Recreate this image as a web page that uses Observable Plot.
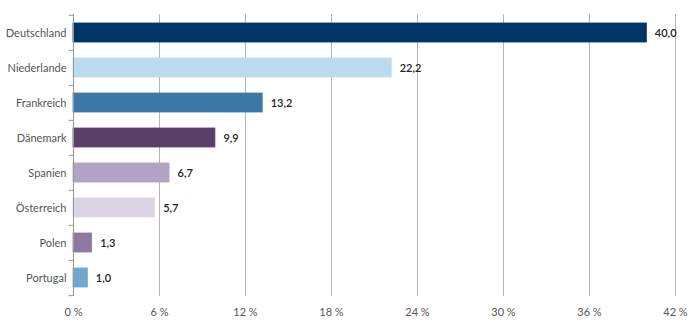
<!DOCTYPE html>
<html>
<head>
<meta charset="utf-8">
<script src="https://cdn.jsdelivr.net/npm/d3@7"></script>
<script src="https://cdn.jsdelivr.net/npm/@observablehq/plot@0.6"></script>
<style>
  body { margin: 0; background: #fff; }
  #chart svg { font-family: Lato, "Open Sans", sans-serif; }
</style>
</head>
<body>
<div id="chart"></div>
<script>
const countries = ["Deutschland", "Niederlande", "Frankreich", "Dänemark", "Spanien", "Österreich", "Polen", "Portugal"];
const shares = [40.0, 22.2, 13.2, 9.9, 6.7, 5.7, 1.3, 1.0];
const colors = ["#003466", "#bddbef", "#3a78a8", "#5a4069", "#b1a4c4", "#dad4e4", "#8e77a1", "#6ea8d1"];
const xTicks = [0, 6, 12, 18, 24, 30, 36, 42];

const data = countries.map((c, i) => ({country: c, value: shares[i], color: colors[i]}));
const fmt = v => v.toFixed(1).replace(".", ",");

const step = (296 - 14) / countries.length;

const chart = Plot.plot({
  width: 700,
  height: 325,
  marginLeft: 73,
  marginRight: 25,
  marginTop: 14,
  marginBottom: 29,
  style: {fontSize: "11px", color: "#555"},
  x: {domain: [0, 42], ticks: xTicks, tickFormat: d => d + " %", tickSize: 0, tickPadding: 12, label: null},
  y: {domain: countries, paddingInner: 0.45, paddingOuter: 0.225, align: 0.5, tickSize: 0, tickPadding: 7, label: null},
  marks: [
    Plot.ruleX(xTicks.filter(t => t > 0), {stroke: "#b5b5b5", strokeWidth: 1}),
    Plot.barX(data, {x: "value", y: "country", fill: "color", stroke: "color", strokeWidth: 0.8}),
    Plot.text(data, {x: "value", y: "country", text: d => fmt(d.value), dx: 8, textAnchor: "start", fill: "#222", fontWeight: 600, fontSize: 11}),
    Plot.ruleX([0], {stroke: "#999", strokeWidth: 1}),
    Plot.ruleY(countries, {y: d => d, x1: -0.3, x2: 0, dy: -step / 2, stroke: "#999", clip: false}),
    Plot.ruleY([countries[countries.length - 1]], {y: d => d, x1: -0.3, x2: 0, dy: step / 2, stroke: "#999", clip: false})
  ]
});
document.getElementById("chart").appendChild(chart);
</script>
</body>
</html>
